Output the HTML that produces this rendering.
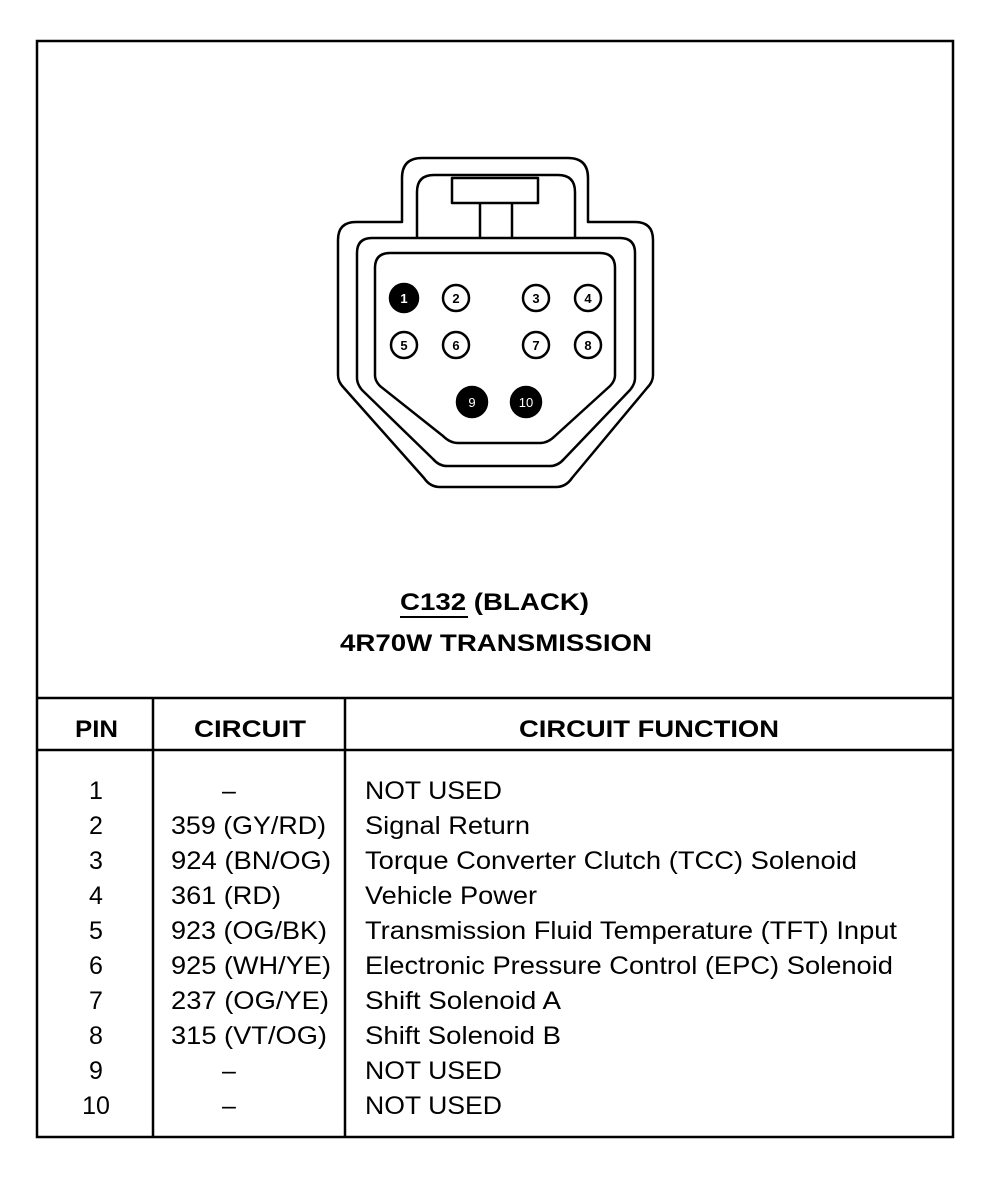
<!DOCTYPE html>
<html><head><meta charset="utf-8"><style>
html,body{margin:0;padding:0;background:#fff;}
svg{display:block;}
text{font-family:"Liberation Sans",Arial,sans-serif;fill:#000;}
</style></head><body>
<svg width="986" height="1200" viewBox="0 0 986 1200" xmlns="http://www.w3.org/2000/svg">
<rect x="37" y="41" width="916" height="1096" fill="none" stroke="#000" stroke-width="2.5"/>
<g fill="none" stroke="#000" stroke-width="2.5" stroke-linejoin="round">
<!-- outer -->
<path d="M338 240 Q338 222 356 222 L402 222 L402 178 Q402 158 422 158 L568 158 Q588 158 588 178 L588 222 L635 222 Q653 222 653 240 L653 375 Q653 382 647 388 L572 478 Q566 487 556 487 L440 487 Q430 487 424 478 L344 388 Q338 382 338 375 Z"/>
<!-- middle -->
<path d="M357 253 Q357 238 372 238 L620 238 Q635 238 635 253 L635 378 Q635 384 630 390 L564 459 Q558 466 550 466 L447 466 Q439 466 433 459 L362 390 Q357 384 357 378 Z"/>
<path d="M417 238 L417 192 Q417 175 434 175 L558 175 Q575 175 575 192 L575 238"/>
<!-- inner -->
<path d="M375 268 Q375 253 390 253 L600 253 Q615 253 615 268 L615 375 Q615 381 610 386 L555 436 Q548 443 540 443 L458 443 Q450 443 443 436 L380 386 Q375 381 375 375 Z"/>
<rect x="452" y="178" width="86" height="25"/>
<line x1="480" y1="203" x2="480" y2="238"/>
<line x1="512" y1="203" x2="512" y2="238"/>
</g>
<g stroke="#000" stroke-width="2.5">
<circle cx="404" cy="298" r="14" fill="#000"/>
<circle cx="456" cy="298" r="13" fill="#fff"/>
<circle cx="536" cy="298" r="13" fill="#fff"/>
<circle cx="588" cy="298" r="13" fill="#fff"/>
<circle cx="404" cy="345" r="13" fill="#fff"/>
<circle cx="456" cy="345" r="13" fill="#fff"/>
<circle cx="536" cy="345" r="13" fill="#fff"/>
<circle cx="588" cy="345" r="13" fill="#fff"/>
<circle cx="472" cy="402" r="15" fill="#000"/>
<circle cx="526" cy="402" r="15" fill="#000"/>
</g>
<g font-size="13" text-anchor="middle" font-weight="bold">
<text x="404" y="303" style="fill:#fff">1</text>
<text x="456" y="303">2</text>
<text x="536" y="303">3</text>
<text x="588" y="303">4</text>
<text x="404" y="350">5</text>
<text x="456" y="350">6</text>
<text x="536" y="350">7</text>
<text x="588" y="350">8</text>
<text x="472" y="407" style="fill:#fff" font-weight="normal">9</text>
<text x="526" y="407" style="fill:#fff" font-weight="normal">10</text>
</g>
<!-- title -->
<g font-size="24" font-weight="bold">
<text x="400" y="610" textLength="189" lengthAdjust="spacingAndGlyphs">C132 (BLACK)</text>
<text x="340" y="651" textLength="312" lengthAdjust="spacingAndGlyphs">4R70W TRANSMISSION</text>
</g>
<line x1="400" y1="617" x2="468" y2="617" stroke="#000" stroke-width="2"/>
<!-- table -->
<g stroke="#000" stroke-width="2.5">
<line x1="37" y1="698" x2="953" y2="698"/>
<line x1="37" y1="750" x2="953" y2="750"/>
<line x1="153" y1="698" x2="153" y2="1137"/>
<line x1="345" y1="698" x2="345" y2="1137"/>
</g>
<g font-size="24" font-weight="bold">
<text x="75" y="737" textLength="43" lengthAdjust="spacingAndGlyphs">PIN</text>
<text x="194" y="737" textLength="112" lengthAdjust="spacingAndGlyphs">CIRCUIT</text>
<text x="519" y="737" textLength="260" lengthAdjust="spacingAndGlyphs">CIRCUIT FUNCTION</text>
</g>
<g font-size="25">
<g text-anchor="middle">
<text x="96" y="799">1</text><text x="96" y="834">2</text><text x="96" y="869">3</text><text x="96" y="904">4</text><text x="96" y="939">5</text><text x="96" y="974">6</text><text x="96" y="1009">7</text><text x="96" y="1044">8</text><text x="96" y="1079">9</text><text x="96" y="1114">10</text>
<text x="229" y="799">–</text><text x="229" y="1079">–</text><text x="229" y="1114">–</text>
</g>
<text x="171" y="834" textLength="155" lengthAdjust="spacingAndGlyphs">359 (GY/RD)</text>
<text x="171" y="869" textLength="160" lengthAdjust="spacingAndGlyphs">924 (BN/OG)</text>
<text x="171" y="904" textLength="110" lengthAdjust="spacingAndGlyphs">361 (RD)</text>
<text x="171" y="939" textLength="156" lengthAdjust="spacingAndGlyphs">923 (OG/BK)</text>
<text x="171" y="974" textLength="160" lengthAdjust="spacingAndGlyphs">925 (WH/YE)</text>
<text x="171" y="1009" textLength="158" lengthAdjust="spacingAndGlyphs">237 (OG/YE)</text>
<text x="171" y="1044" textLength="156" lengthAdjust="spacingAndGlyphs">315 (VT/OG)</text>
<text x="365" y="799" textLength="137" lengthAdjust="spacingAndGlyphs">NOT USED</text>
<text x="365" y="834" textLength="165" lengthAdjust="spacingAndGlyphs">Signal Return</text>
<text x="365" y="869" textLength="492" lengthAdjust="spacingAndGlyphs">Torque Converter Clutch (TCC) Solenoid</text>
<text x="365" y="904" textLength="172" lengthAdjust="spacingAndGlyphs">Vehicle Power</text>
<text x="365" y="939" textLength="532" lengthAdjust="spacingAndGlyphs">Transmission Fluid Temperature (TFT) Input</text>
<text x="365" y="974" textLength="528" lengthAdjust="spacingAndGlyphs">Electronic Pressure Control (EPC) Solenoid</text>
<text x="365" y="1009" textLength="196" lengthAdjust="spacingAndGlyphs">Shift Solenoid A</text>
<text x="365" y="1044" textLength="196" lengthAdjust="spacingAndGlyphs">Shift Solenoid B</text>
<text x="365" y="1079" textLength="137" lengthAdjust="spacingAndGlyphs">NOT USED</text>
<text x="365" y="1114" textLength="137" lengthAdjust="spacingAndGlyphs">NOT USED</text>
</g>
</svg>
</body></html>
